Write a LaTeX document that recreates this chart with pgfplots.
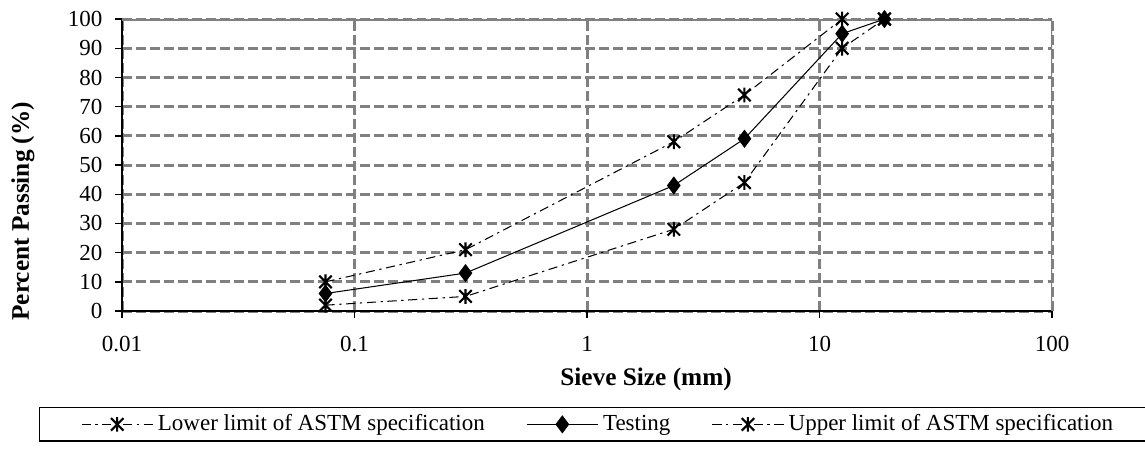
\documentclass[border=0pt]{standalone}
\usepackage{fontspec}
\setmainfont{Liberation Serif}
\usepackage{pgfplots}
\pgfplotsset{compat=1.18}

\definecolor{gridgray}{RGB}{128,128,128}

% Excel-like star marker: an X with a vertical bar
\pgfdeclareplotmark{xstar}{%
  \pgfpathmoveto{\pgfqpoint{0pt}{\pgfplotmarksize}}%
  \pgfpathlineto{\pgfqpoint{0pt}{-\pgfplotmarksize}}%
  \pgfpathmoveto{\pgfqpoint{-0.85\pgfplotmarksize}{0.85\pgfplotmarksize}}%
  \pgfpathlineto{\pgfqpoint{0.85\pgfplotmarksize}{-0.85\pgfplotmarksize}}%
  \pgfpathmoveto{\pgfqpoint{-0.85\pgfplotmarksize}{-0.85\pgfplotmarksize}}%
  \pgfpathlineto{\pgfqpoint{0.85\pgfplotmarksize}{0.85\pgfplotmarksize}}%
  \pgfusepathqstroke}

\begin{document}
\begin{tikzpicture}
\begin{semilogxaxis}[
  scale only axis,
  width=404.6pt, height=127pt,
  xmin=0.01, xmax=100, ymin=0, ymax=100,
  xtick={0.01,0.1,1,10,100},
  xticklabels={0.01,0.1,1,10,100},
  ytick={0,10,...,100},
  xminorticks=false,
  axis x line*=bottom, axis y line*=left,
  axis line style={black, line width=0.7pt},
  tick align=outside, major tick length=3pt,
  tick style={black, line width=0.6pt},
  grid=major,
  major grid style={gridgray, line width=1.3pt, dash pattern=on 4.3pt off 1.8pt},
  /pgf/number format/assume math mode=true,
  ticklabel style={font=\fontsize{10}{12}\selectfont},
  xticklabel style={yshift=-4.5pt},
  yticklabel style={xshift=-2pt},
  xlabel={Sieve Size (mm)},
  ylabel={Percent Passing (\%)},
  label style={font=\fontsize{11}{13}\selectfont\bfseries},
  xlabel style={at={(axis description cs:0.5634,-0.233)}, anchor=center},
  ylabel style={at={(axis description cs:-0.1065,0.342)}, anchor=center, rotate=0},
  legend columns=3,
  legend style={at={(axis description cs:-0.0892,-0.329)}, anchor=north west,
    draw=black, line width=0.5pt, inner xsep=18pt, inner ysep=1pt,
    font=\fontsize{10}{12}\selectfont,
    /tikz/every even column/.append style={column sep=16pt}},
  legend image code/.code={%
    \draw[mark repeat=2,mark phase=2] plot coordinates {(0pt,0pt) (15.5pt,0pt) (31pt,0pt)};},
]
\addplot[black, line width=0.45pt, dash pattern=on 4pt off 2pt on 1pt off 2pt,
  mark=xstar, mark size=3.2pt, mark options={solid, line width=0.9pt}]
  coordinates {(0.075,2) (0.3,5) (2.36,28) (4.75,44) (12.5,90) (19,100)};
\addlegendentry{Lower limit of ASTM specification}
\addplot[black, line width=0.45pt, solid,
  mark=diamond*, mark size=3.6pt, mark options={solid}]
  coordinates {(0.075,6) (0.3,13) (2.36,43) (4.75,59) (12.5,95) (19,100)};
\addlegendentry{Testing}
\addplot[black, line width=0.45pt, dash pattern=on 4pt off 2pt on 1pt off 2pt,
  mark=xstar, mark size=3.2pt, mark options={solid, line width=0.9pt}]
  coordinates {(0.075,10) (0.3,21) (2.36,58) (4.75,74) (12.5,100) (19,100)};
\addlegendentry{Upper limit of ASTM specification}
\draw[gridgray, line width=1.3pt] (rel axis cs:0,1) -- (rel axis cs:1,1) -- (rel axis cs:1,0);
\end{semilogxaxis}
\pgfresetboundingbox
\useasboundingbox (-53.1pt,-60.5pt) rectangle (445pt,135.3pt);
\end{tikzpicture}
\end{document}
